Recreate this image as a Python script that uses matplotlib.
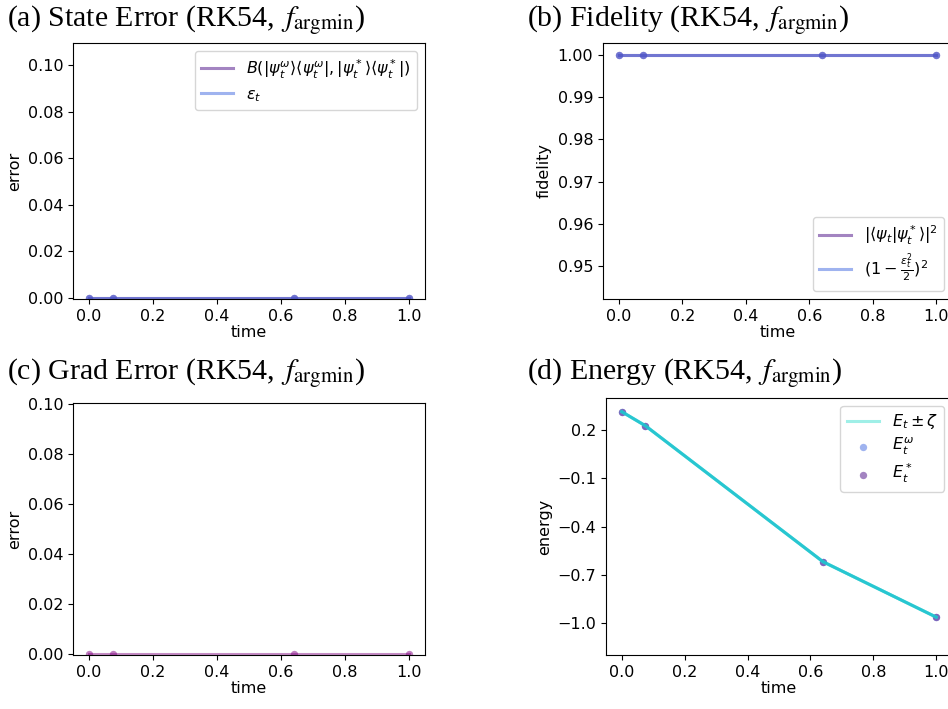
import matplotlib
matplotlib.use("Agg")
import matplotlib.pyplot as plt
import numpy as np

plt.rcParams["font.family"] = ["DejaVu Sans"]
plt.rcParams["font.size"] = 11.5

# data
time = [0.0, 0.075, 0.64, 1.0]
state_err = [0.0, 0.0, 0.0, 0.0]
eps_t = [0.0, 0.0, 0.0, 0.0]
fid = [1.0, 1.0, 1.0, 1.0]
fid_bound = [1.0, 1.0, 1.0, 1.0]
grad_err = [0.0, 0.0, 0.0, 0.0]
energy = [0.314, 0.227, -0.618, -0.962]
zeta = [0.0, 0.0, 0.0, 0.0]

titles = [r"(a) State Error (RK54, $\,f_{\mathrm{argmin}}$)",
          r"(b) Fidelity (RK54, $\,f_{\mathrm{argmin}}$)",
          r"(c) Grad Error (RK54, $\,f_{\mathrm{argmin}}$)",
          r"(d) Energy (RK54, $\,f_{\mathrm{argmin}}$)"]

fig = plt.figure(figsize=(9.48, 7.09), dpi=100)
W, H = 948.0, 709.0

def box(x0, y0, x1, y1):
    return [x0 / W, 1 - y1 / H, (x1 - x0) / W, (y1 - y0) / H]

axA = fig.add_axes(box(73, 43, 425, 299))
axB = fig.add_axes(box(603, 43, 952, 299))
axC = fig.add_axes(box(73, 403, 425, 655))
axD = fig.add_axes(box(606, 398, 952, 655))

# (a) state error
axA.plot(time, state_err, color="rebeccapurple", alpha=0.6, lw=2.2,
         label=r"$B(|\psi_t^{\omega}\rangle\langle\psi_t^{\omega}|,|\psi_t^*\rangle\langle\psi_t^*|)$")
axA.plot(time, eps_t, color="royalblue", alpha=0.5, lw=2.2, label=r"$\epsilon_t$")
axA.scatter(time, state_err, color="rebeccapurple", alpha=0.6, s=28, lw=0)
axA.scatter(time, eps_t, color="royalblue", alpha=0.5, s=28, lw=0)
axA.set_ylim(-0.0006, 0.1095)
axA.set_xlabel("time", labelpad=1)
axA.set_ylabel("error")
axA.legend(loc="upper right", labelspacing=0.4)

# (b) fidelity
axB.plot(time, fid, color="rebeccapurple", alpha=0.6, lw=2.2,
         label=r"$|\langle\psi_t|\psi_t^*\rangle|^2$")
axB.plot(time, fid_bound, color="royalblue", alpha=0.5, lw=2.2,
         label=r"$(1-\frac{\epsilon_t^2}{2})^2$")
axB.scatter(time, fid, color="rebeccapurple", alpha=0.6, s=28, lw=0)
axB.scatter(time, fid_bound, color="royalblue", alpha=0.5, s=28, lw=0)
axB.set_ylim(0.9422, 1.0028)
axB.set_xlabel("time", labelpad=1)
axB.set_ylabel("fidelity")
axB.legend(loc="lower right", labelspacing=0.3)

# (c) grad error
axC.plot(time, grad_err, color="purple", alpha=0.45, lw=2.2)
axC.scatter(time, grad_err, color="purple", alpha=0.5, s=28, lw=0)
axC.set_ylim(-0.0006, 0.1005)
axC.set_xlabel("time", labelpad=1)
axC.set_ylabel("error")

# (d) energy
e = np.array(energy)
z = np.array(zeta)
axD.plot(time, e + z, color="turquoise", alpha=0.5, lw=2.2, label=r"$E_t\pm\zeta$")
axD.plot(time, e - z, color="turquoise", alpha=0.5, lw=2.2)
axD.plot(time, e, color="tab:cyan", alpha=0.8, lw=2.2)
axD.scatter(time, energy, color="royalblue", alpha=0.5, s=28, lw=0, label=r"$E_t^{\omega}$")
axD.scatter(time, energy, color="rebeccapurple", alpha=0.6, s=28, lw=0, label=r"$E_t^*$")
axD.set_yticks([0.2, -0.1, -0.4, -0.7, -1.0])
axD.set_ylim(-1.197, 0.399)
axD.set_xlabel("time", labelpad=1)
axD.set_ylabel("energy")
axD.legend(loc="upper right", labelspacing=0.3)

for ax in [axA, axB, axC, axD]:
    ax.set_xlim(-0.05, 1.05)
    ax.set_xticks([0.0, 0.2, 0.4, 0.6, 0.8, 1.0])

tpos = [(7, 20), (527, 20), (7, 373), (527, 373)]
for (x, y), t in zip(tpos, titles):
    fig.text(x / W, 1 - y / H, t, fontsize=21.5, family="Liberation Serif",
             math_fontfamily="stix", va="center", ha="left")

fig.savefig("out.png", dpi=100)
